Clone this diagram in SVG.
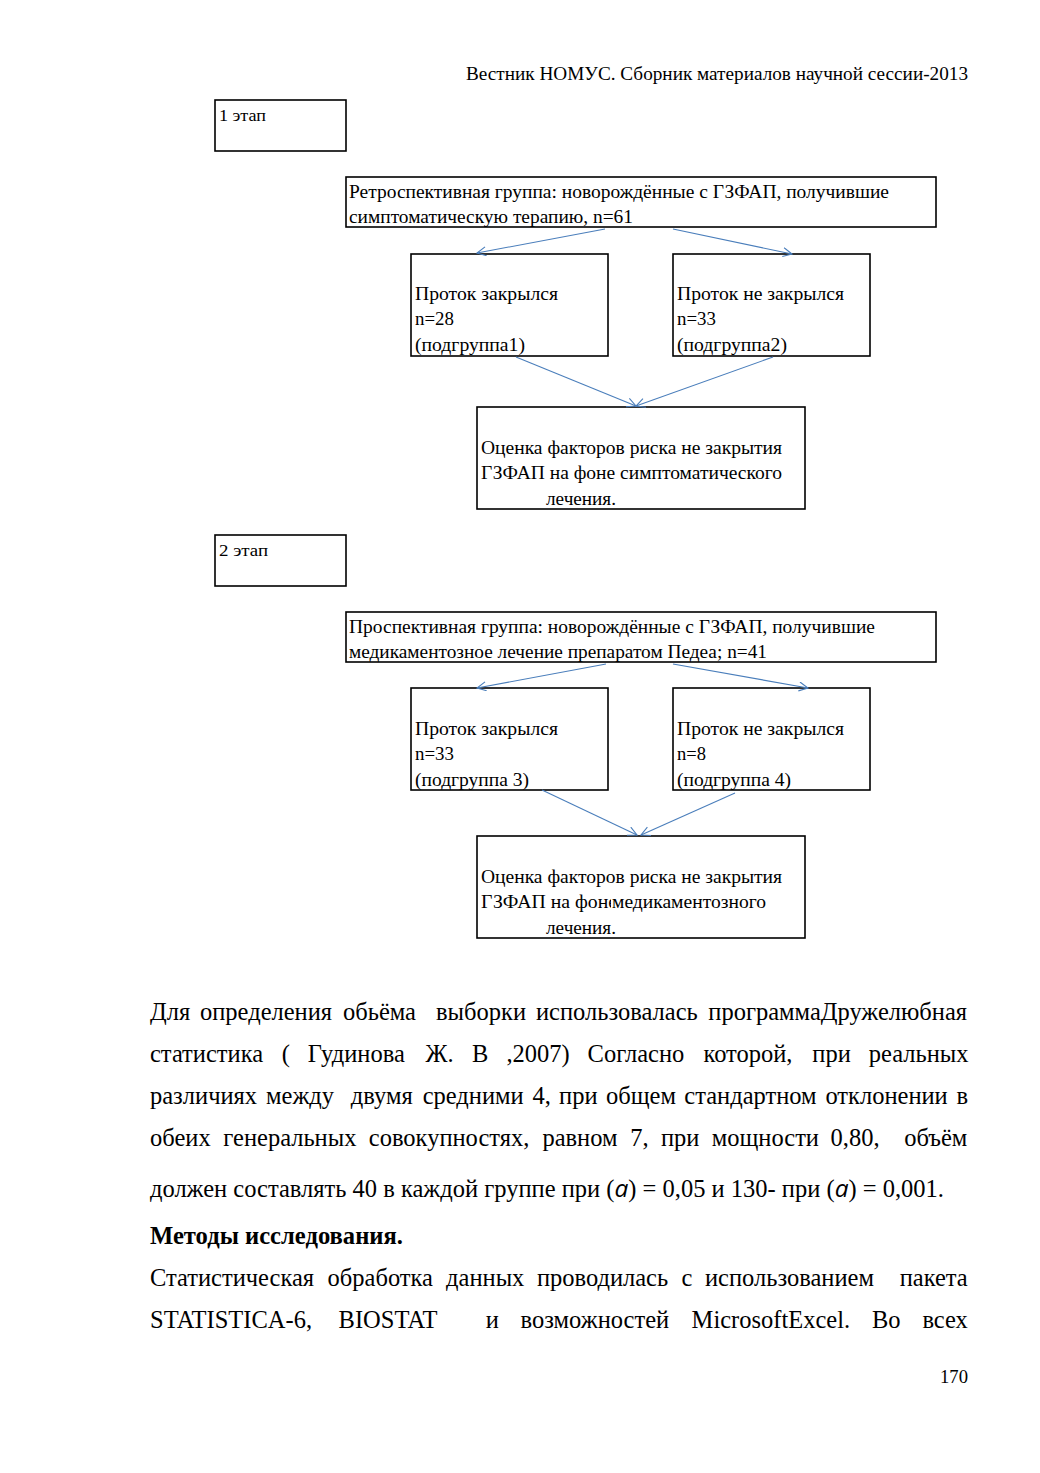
<svg xmlns="http://www.w3.org/2000/svg" width="1040" height="1473" viewBox="0 0 1040 1473">
<style>
.bx{fill:#fff;stroke:#000;stroke-width:1.6}
.t{font-family:"Liberation Serif","Times New Roman",serif;fill:#000}
.s{font-size:18px}
.m{font-size:19px}
.b{font-size:24.5px}
.c{fill:none;stroke:#4a7ebb;stroke-width:1.1}
</style>
<defs>
<marker id="ar" markerWidth="12" markerHeight="12" refX="10" refY="5" orient="auto" markerUnits="userSpaceOnUse">
<path d="M1,0.5 L10,5 L1,9.5" fill="none" stroke="#4a7ebb" stroke-width="1.1"/>
</marker>
<clipPath id="cl"><rect x="470" y="885" width="141" height="30"/></clipPath>
</defs>
<rect width="1040" height="1473" fill="#fff"/>

<text class="t" x="466" y="80" font-size="19.5" textLength="502" lengthAdjust="spacingAndGlyphs">Вестник НОМУС. Сборник материалов научной сессии-2013</text>

<g id="stage1">
<rect class="bx" x="215" y="100" width="131" height="51"/>
<text class="t" x="219" y="121" font-size="16" textLength="47" lengthAdjust="spacingAndGlyphs">1 этап</text>
</g>
<g id="retro">
<rect class="bx" x="346" y="177" width="590" height="50"/>
<text class="t s" x="349" y="198" textLength="540" lengthAdjust="spacingAndGlyphs">Ретроспективная группа: новорождённые с ГЗФАП, получившие</text>
<text class="t s" x="349" y="223" textLength="284" lengthAdjust="spacingAndGlyphs">симптоматическую терапию, n=61</text>
</g>
<g id="sub1">
<rect class="bx" x="411" y="254" width="197" height="102"/>
<text class="t m" x="415" y="300" textLength="143" lengthAdjust="spacingAndGlyphs">Проток закрылся</text>
<text class="t m" x="415" y="325" textLength="39" lengthAdjust="spacingAndGlyphs">n=28</text>
<text class="t m" x="415" y="351" textLength="110" lengthAdjust="spacingAndGlyphs">(подгруппа1)</text>
</g>
<g id="sub2">
<rect class="bx" x="673" y="254" width="197" height="102"/>
<text class="t m" x="677" y="300" textLength="167" lengthAdjust="spacingAndGlyphs">Проток не закрылся</text>
<text class="t m" x="677" y="325" textLength="39" lengthAdjust="spacingAndGlyphs">n=33</text>
<text class="t m" x="677" y="351" textLength="110" lengthAdjust="spacingAndGlyphs">(подгруппа2)</text>
</g>
<g id="eval1">
<rect class="bx" x="477" y="407" width="328" height="102"/>
<text class="t m" x="481" y="454" textLength="301" lengthAdjust="spacingAndGlyphs">Оценка факторов риска не закрытия</text>
<text class="t m" x="481" y="479" textLength="301" lengthAdjust="spacingAndGlyphs">ГЗФАП на фоне симптоматического</text>
<text class="t m" x="546" y="505" textLength="70" lengthAdjust="spacingAndGlyphs">лечения.</text>
</g>

<g id="stage2">
<rect class="bx" x="215" y="535" width="131" height="51"/>
<text class="t" x="219" y="556" font-size="16" textLength="49" lengthAdjust="spacingAndGlyphs">2 этап</text>
</g>
<g id="prosp">
<rect class="bx" x="346" y="612" width="590" height="50"/>
<text class="t s" x="349" y="633" textLength="526" lengthAdjust="spacingAndGlyphs">Проспективная группа: новорождённые с ГЗФАП, получившие</text>
<text class="t s" x="349" y="658" textLength="418" lengthAdjust="spacingAndGlyphs">медикаментозное лечение препаратом Педеа; n=41</text>
</g>
<g id="sub3">
<rect class="bx" x="411" y="688" width="197" height="102"/>
<text class="t m" x="415" y="735" textLength="143" lengthAdjust="spacingAndGlyphs">Проток закрылся</text>
<text class="t m" x="415" y="760" textLength="39" lengthAdjust="spacingAndGlyphs">n=33</text>
<text class="t m" x="415" y="786" textLength="114" lengthAdjust="spacingAndGlyphs">(подгруппа 3)</text>
</g>
<g id="sub4">
<rect class="bx" x="673" y="688" width="197" height="102"/>
<text class="t m" x="677" y="735" textLength="167" lengthAdjust="spacingAndGlyphs">Проток не закрылся</text>
<text class="t m" x="677" y="760" textLength="29" lengthAdjust="spacingAndGlyphs">n=8</text>
<text class="t m" x="677" y="786" textLength="114" lengthAdjust="spacingAndGlyphs">(подгруппа 4)</text>
</g>
<g id="eval2">
<rect class="bx" x="477" y="836" width="328" height="102"/>
<text class="t m" x="481" y="883" textLength="301" lengthAdjust="spacingAndGlyphs">Оценка факторов риска не закрытия</text>
<text class="t m" x="481" y="908" textLength="136" lengthAdjust="spacingAndGlyphs" clip-path="url(#cl)">ГЗФАП на фоне</text>
<text class="t m" x="612" y="908" textLength="154" lengthAdjust="spacingAndGlyphs">медикаментозного</text>
<text class="t m" x="546" y="934" textLength="70" lengthAdjust="spacingAndGlyphs">лечения.</text>
</g>

<g id="connectors">
<line class="c" x1="605" y1="229" x2="477" y2="253" marker-end="url(#ar)"/>
<line class="c" x1="673" y1="229" x2="792" y2="254" marker-end="url(#ar)"/>
<line class="c" x1="516" y1="357" x2="636" y2="406" marker-end="url(#ar)"/>
<line class="c" x1="773" y1="357" x2="636" y2="406" marker-end="url(#ar)"/>
<line class="c" x1="606" y1="664" x2="477" y2="688" marker-end="url(#ar)"/>
<line class="c" x1="673" y1="664" x2="808" y2="688" marker-end="url(#ar)"/>
<line class="c" x1="542" y1="790" x2="637" y2="835" marker-end="url(#ar)"/>
<line class="c" x1="735" y1="793" x2="641" y2="835" marker-end="url(#ar)"/>
</g>

<g id="body">
<text class="t b" y="1020"><tspan x="150">Для</tspan><tspan x="200">определения</tspan><tspan x="343">обьёма</tspan><tspan x="436">выборки</tspan><tspan x="536">использовалась</tspan><tspan x="708.3">программаДружелюбная</tspan></text>
<text class="t b" y="1062"><tspan x="150">статистика</tspan><tspan x="281.7">(</tspan><tspan x="307.8">Гудинова</tspan><tspan x="425.5">Ж.</tspan><tspan x="472.1">В</tspan><tspan x="506.4">,2007)</tspan><tspan x="587.6">Согласно</tspan><tspan x="703.5">которой,</tspan><tspan x="812.3">при</tspan><tspan x="868.8">реальных</tspan></text>
<text class="t b" y="1104"><tspan x="150">различиях</tspan><tspan x="266">между</tspan><tspan x="350.8">двумя</tspan><tspan x="422.7">средними</tspan><tspan x="532.4">4,</tspan><tspan x="559.1">при</tspan><tspan x="606">общем</tspan><tspan x="684.3">стандартном</tspan><tspan x="825.4">отклонении</tspan><tspan x="956.4">в</tspan></text>
<text class="t b" y="1146"><tspan x="150">обеих</tspan><tspan x="223.3">генеральных</tspan><tspan x="368.8">совокупностях,</tspan><tspan x="542.4">равном</tspan><tspan x="630.3">7,</tspan><tspan x="660.9">при</tspan><tspan x="711.7">мощности</tspan><tspan x="830.6">0,80,</tspan><tspan x="904.2">объём</tspan></text>
<text class="t b" x="150" y="1197" textLength="794" lengthAdjust="spacingAndGlyphs">должен составлять 40 в каждой группе при (<tspan font-family="'Open Sans','DejaVu Sans',sans-serif" font-style="italic">a</tspan>) = 0,05 и 130- при (<tspan font-family="'Open Sans','DejaVu Sans',sans-serif" font-style="italic">a</tspan>) = 0,001.</text>
<text class="t b" x="150" y="1244" font-weight="bold" textLength="253" lengthAdjust="spacingAndGlyphs">Методы исследования.</text>
<text class="t b" y="1286"><tspan x="150">Статистическая</tspan><tspan x="327.6">обработка</tspan><tspan x="446.1">данных</tspan><tspan x="536.9">проводилась</tspan><tspan x="681.6">с</tspan><tspan x="705">использованием</tspan><tspan x="899.7">пакета</tspan></text>
<text class="t b" y="1328"><tspan x="150">STATISTICA-6,</tspan><tspan x="338.6">BIOSTAT</tspan><tspan x="485.7">и</tspan><tspan x="520.6">возможностей</tspan><tspan x="691.6">MicrosoftExcel.</tspan><tspan x="872">Во</tspan><tspan x="922.4">всех</tspan></text>
<text class="t" x="940" y="1383" font-size="19" textLength="28" lengthAdjust="spacingAndGlyphs">170</text>
</g>
</svg>
